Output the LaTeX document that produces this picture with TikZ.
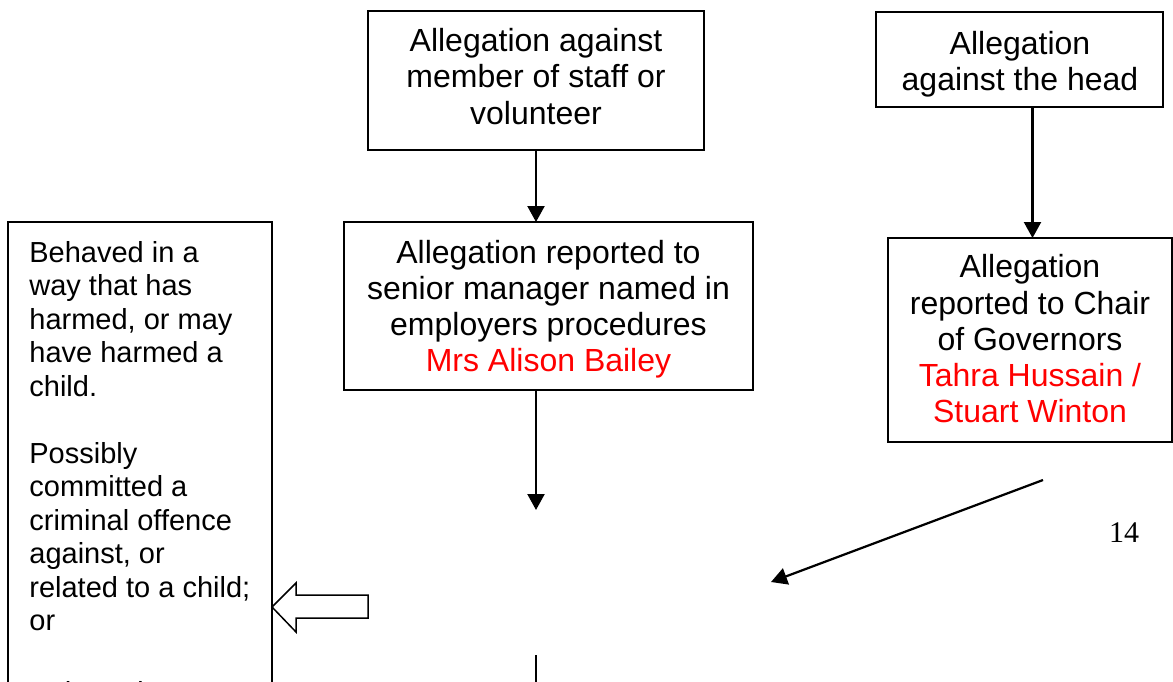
\documentclass[tikz,border=0pt]{standalone}
\usepackage{fontspec}
\setmainfont{Liberation Sans}
\newfontfamily\pagefont{Liberation Serif}
\usetikzlibrary{arrows.meta}
\begin{document}
\begin{tikzpicture}[x=0.5pt,y=-0.5pt,
  box/.style={draw=black,line width=0.75pt,inner sep=0pt,outer sep=0pt},
  txt/.style={inner sep=0pt,align=center,font=\fontsize{16}{18.1}\selectfont},
  ltxt/.style={inner sep=0pt,align=left,font=\fontsize{14.5}{16.75}\selectfont},
  arr/.style={line width=1.1pt,-{Triangle[length=8pt,width=8.5pt]}},
  hollow/.style={draw=black,line width=0.75pt,fill=white,line join=miter}]
\useasboundingbox (0,0) rectangle (1173,681);
\clip (0,0) rectangle (1173,681);
% boxes
\node[box,minimum width=168pt,minimum height=69.5pt] (A) at (536,80.5) {};
\node[box,minimum width=204.5pt,minimum height=84pt] (B) at (548.5,306) {};
\node[box,minimum width=143.5pt,minimum height=47.5pt] (C) at (1019.5,59.5) {};
\node[box,minimum width=142pt,minimum height=102pt] (D) at (1030,340) {};
\node[box,minimum width=132pt,minimum height=249pt] (E) at (140,471) {};
% texts
\node[txt] (At) at (536,80.7) {\strut Allegation against\\member of staff or\\volunteer\strut};
\node[txt] (Bt) at (548.5,310.3) {\strut Allegation reported to\\senior manager named in\\employers procedures\\\textcolor{red}{Mrs Alison Bailey}\strut};
\node[txt] (Ct) at (1020,65) {\strut Allegation\\against the head\strut};
\node[txt] (Dt) at (1030,343.1) {\strut Allegation\\reported to Chair\\of Governors\\\textcolor{red}{Tahra Hussain /}\\\textcolor{red}{Stuart Winton}\strut};
\node[ltxt,anchor=north west] (Et) at (29,238.5) {\strut Behaved in a\\way that has\\harmed, or may\\have harmed a\\child.\\[16.75pt]Possibly\\committed a\\criminal offence\\against, or\\related to a child;\\or\\[19pt]Behaved\strut};
\node[inner sep=0pt,font=\pagefont\fontsize{15}{18}\selectfont] (pg) at (1124,533) {14};
% connectors
\coordinate (bend) at (536,510);
\coordinate (stubtop) at (536,655);
\coordinate (stubbot) at (536,700);
\coordinate (dstart) at (1043,480);
\coordinate (dend) at (771,582);
\draw[arr] (A.south -| bend) -- (B.north -| bend);
\draw[arr] (B.south -| bend) -- (bend);
\draw[line width=1.1pt] (stubtop) -- (stubbot);
\draw[arr] (C.south -| 1032.5,0) -- (D.north -| 1032.5,0);
\draw[arr] (dstart) -- (dend);
% hollow block arrow pointing at E
\draw[hollow] (E.east |- 0,607) -- (296,583) -- (296,595) -- (368,595) -- (368,618) -- (296,618) -- (296,632) -- cycle;
\end{tikzpicture}
\end{document}
